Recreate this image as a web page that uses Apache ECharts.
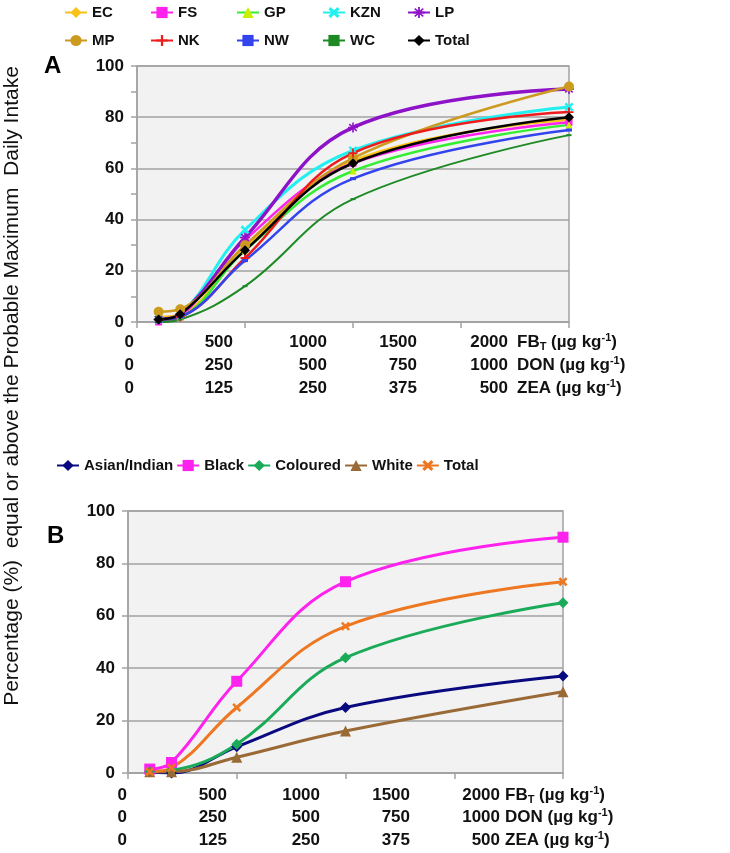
<!DOCTYPE html>
<html>
<head>
<meta charset="utf-8">
<script src="https://cdn.jsdelivr.net/npm/echarts@6/dist/echarts.min.js"></script>
<style>
  html, body { margin: 0; padding: 0; background: #fff; }
  #chart { width: 730px; height: 853px; }
</style>
</head>
<body>
<div id="chart"></div>
<script>
// doses (FB_T, µg/kg) where the curves were evaluated
const doses = [100, 200, 500, 1000, 2000];

// panel A : provinces
const provNames = ["EC", "FS", "GP", "KZN", "LP", "MP", "NK", "NW", "WC", "Total"];
const ecVals = [2, 3, 29, 63, 79];
const fsVals = [0, 2, 32, 62, 78];
const gpVals = [1, 2, 28, 59, 77];
const kznVals = [1, 3, 36, 67, 84];
const lpVals = [1, 3, 33, 76, 91];
const mpVals = [4, 5, 30, 64, 92];
const nkVals = [1, 2, 25, 66, 82];
const nwVals = [1, 2, 24, 56, 75];
const wcVals = [0, 1, 14, 48, 73];
const totalAVals = [1, 3, 28, 62, 80];

// panel B : population groups
const groupNames = ["Asian/Indian", "Black", "Coloured", "White", "Total"];
const asianVals = [0.5, 0, 10, 25, 37];
const blackVals = [1.5, 4, 35, 73, 90];
const colouredVals = [0.5, 1, 11, 44, 65];
const whiteVals = [0.5, 0.5, 6, 16, 31];
const totalBVals = [0.5, 2, 25, 56, 73];

// the three stacked x label rows
const fbLabels = ["0", "500", "1000", "1500", "2000"];
const donLabels = ["0", "250", "500", "750", "1000"];
const zeaLabels = ["0", "125", "250", "375", "500"];

const FONT = "'Liberation Sans', Arial, sans-serif";

const xPath = "path://M0,2 L2,0 L5,3 L8,0 L10,2 L7,5 L10,8 L8,10 L5,7 L2,10 L0,8 L3,5 Z";
const plusPath = "path://M4,0 L6,0 L6,4 L10,4 L10,6 L6,6 L6,10 L4,10 L4,6 L0,6 L0,4 L4,4 Z";
const starPath = "path://M4.2,0 L5.8,0 L5.8,3.2 L8.3,1 L9.3,2.2 L6.8,4.2 L10,4.2 L10,5.8 L6.8,5.8 L9.3,7.8 L8.3,9 L5.8,6.8 L5.8,10 L4.2,10 L4.2,6.8 L1.7,9 L0.7,7.8 L3.2,5.8 L0,5.8 L0,4.2 L3.2,4.2 L0.7,2.2 L1.7,1 L4.2,3.2 Z";

function pairs(vals) {
  return doses.map((d, i) => [d, vals[i]]);
}

function line(name, vals, color, symbol, size, width, grid, markerColor) {
  return {
    name: name,
    type: "line",
    xAxisIndex: grid,
    yAxisIndex: grid,
    data: pairs(vals),
    smooth: 0.4,
    symbol: symbol,
    symbolSize: size,
    showSymbol: true,
    lineStyle: { color: color, width: width },
    itemStyle: { color: markerColor || color },
    emphasis: { disabled: true },
    animation: false
  };
}

const series = [
  line("EC", ecVals, "#f7c21a", "diamond", 8, 2.5, 0),
  line("FS", fsVals, "#ff22ee", "rect", 7, 2.5, 0),
  line("GP", gpVals, "#33ee33", "triangle", 7, 2.5, 0, "#c8f000"),
  line("KZN", kznVals, "#22f0f0", xPath, 9, 3, 0),
  line("LP", lpVals, "#8e12c8", starPath, 10, 3.5, 0),
  line("MP", mpVals, "#cc9a1e", "circle", 10, 2.5, 0),
  line("NK", nkVals, "#ee1c1c", plusPath, 9, 2.5, 0),
  line("NW", nwVals, "#3344ee", "rect", [6, 3], 2.5, 0),
  line("WC", wcVals, "#1d8a24", "rect", [5, 2], 2, 0),
  line("Total", totalAVals, "#000000", "diamond", 10, 2.5, 0),

  line("Asian/Indian", asianVals, "#0a0a80", "diamond", 11, 3, 1),
  line("Black", blackVals, "#ff22ee", "rect", 11, 3, 1),
  line("Coloured", colouredVals, "#1aaa58", "diamond", 11, 3, 1),
  line("White", whiteVals, "#9a6a36", "triangle", 11, 3, 1),
  line(" Total", totalBVals, "#ee7722", xPath, 9, 3, 1)
];

const gridColor = "#a2a2a2";

function xAxis(gridIndex) {
  return {
    type: "value",
    gridIndex: gridIndex,
    min: 0,
    max: 2000,
    interval: 500,
    axisLine: { show: true, onZero: false, lineStyle: { color: gridColor, width: 1.5 } },
    axisTick: { show: true, length: 6, lineStyle: { color: gridColor, width: 1.5 } },
    axisLabel: { show: false },
    splitLine: { show: false }
  };
}

function yAxis(gridIndex, minor) {
  return {
    type: "value",
    gridIndex: gridIndex,
    min: 0,
    max: 100,
    interval: 20,
    axisLine: { show: true, lineStyle: { color: gridColor, width: 1.5 } },
    axisTick: { show: true, length: 6, lineStyle: { color: gridColor, width: 1.5 } },
    minorTick: { show: minor, splitNumber: 2, length: 6, lineStyle: { color: gridColor, width: 1.5 } },
    axisLabel: { color: "#111", fontFamily: FONT, fontWeight: "bold", fontSize: 17, margin: 13 },
    splitLine: { show: true, lineStyle: { color: gridColor, width: 1.5 } }
  };
}

// x label table under each panel
function labelRows(rowsY, colsX, unitX) {
  const rows = [fbLabels, donLabels, zeaLabels];
  const units = [
    "FB{sub|T} (µg kg{sup|-1})",
    "DON (µg kg{sup|-1})",
    "ZEA (µg kg{sup|-1})"
  ];
  const out = [];
  rows.forEach((labels, r) => {
    labels.forEach((t, c) => {
      out.push({
        type: "text",
        x: colsX[c],
        y: rowsY[r],
        style: {
          text: t,
          align: "right",
          verticalAlign: "middle",
          fill: "#111",
          font: "bold 17px " + FONT
        }
      });
    });
    out.push({
      type: "text",
      x: unitX,
      y: rowsY[r],
      style: {
        text: units[r],
        align: "left",
        verticalAlign: "middle",
        fill: "#111",
        fontFamily: FONT,
        fontWeight: "bold",
        fontSize: 17,
        lineHeight: 20,
        rich: {
          sub: { fontSize: 11, fontWeight: "bold", fontFamily: FONT, verticalAlign: "bottom", lineHeight: 20, fill: "#111" },
          sup: { fontSize: 11, fontWeight: "bold", fontFamily: FONT, verticalAlign: "top", lineHeight: 20, fill: "#111" }
        }
      }
    });
  });
  return out;
}

const legendText = { fontFamily: FONT, fontWeight: "bold", fontSize: 15, color: "#111" };
const colLeft = [64, 150, 236, 322, 407];
const legends = colLeft.map((x, i) => ({
  orient: "vertical",
  left: x,
  top: 5,
  padding: 0,
  itemGap: 13,
  itemWidth: 22,
  itemHeight: 14,
  textStyle: legendText,
  selectedMode: false,
  data: [provNames[i], provNames[i + 5]]
}));
legends.push({
  orient: "horizontal",
  left: 56,
  top: 458,
  padding: 0,
  itemGap: 3,
  itemWidth: 22,
  itemHeight: 14,
  textStyle: legendText,
  selectedMode: false,
  formatter: n => n.trim(),
  data: groupNames.map(n => (n === "Total" ? " Total" : n))
});

const chart = echarts.init(document.getElementById("chart"), null, { renderer: "canvas" });

chart.setOption({
  backgroundColor: "#ffffff",
  animation: false,
  legend: legends,
  grid: [
    { left: 137, top: 66, width: 432, height: 256, show: true, backgroundColor: "#f2f2f2", borderColor: gridColor, borderWidth: 1.5 },
    { left: 128, top: 511, width: 435, height: 262, show: true, backgroundColor: "#f2f2f2", borderColor: gridColor, borderWidth: 1.5 }
  ],
  xAxis: [xAxis(0), xAxis(1)],
  yAxis: [yAxis(0, true), yAxis(1, false)],
  series: series,
  graphic: [
    { type: "text", x: 44, y: 66, style: { text: "A", font: "bold 24px " + FONT, fill: "#000", verticalAlign: "middle" } },
    { type: "text", x: 47, y: 536, style: { text: "B", font: "bold 24px " + FONT, fill: "#000", verticalAlign: "middle" } },
    {
      type: "text",
      x: 12,
      y: 386,
      rotation: Math.PI / 2,
      style: {
        text: "Percentage (%)  equal or above the Probable Maximum  Daily Intake",
        font: "21px " + FONT,
        fill: "#111",
        align: "center",
        verticalAlign: "middle"
      }
    }
  ]
    .concat(labelRows([342, 365, 388], [134, 233, 327, 417, 508], 517))
    .concat(labelRows([795, 817, 840], [127, 227, 320, 410, 500], 505))
});
</script>
</body>
</html>
